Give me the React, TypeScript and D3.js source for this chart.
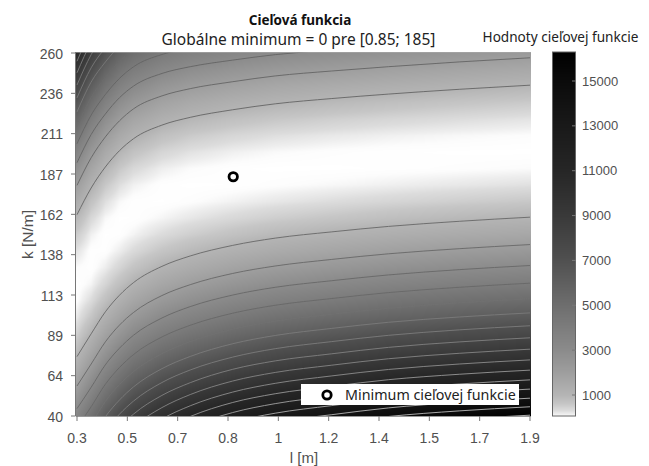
import React, { useMemo } from "react";
import * as d3 from "d3";

const xTickLabels = ["0.3", "0.5", "0.7", "0.8", "1", "1.2", "1.4", "1.5", "1.7", "1.9"];
const yTickLabels = ["40", "64", "89", "113", "138", "162", "187", "211", "236", "260"];
const barTicks = [1000, 3000, 5000, 7000, 9000, 11000, 13000, 15000];

const lCols = [0.3, 0.35, 0.4, 0.45, 0.5, 0.6, 0.7, 0.85, 1, 1.2, 1.4, 1.65, 1.9];
const kRows = [40, 50, 60, 70, 80, 90, 100, 110, 120, 130, 140, 150, 160, 170, 180, 190, 200, 210, 220, 230, 240, 250, 260];

const fieldL030 = [3374, 2574, 1882, 1298, 822, 455, 195, 44, 1, 65, 238, 519, 909, 1406, 2011, 2725, 3546, 4476, 5514, 6660, 7914, 9276, 10746];
const fieldL035 = [4776, 3814, 2960, 2214, 1576, 1046, 625, 311, 106, 9, 19, 138, 365, 701, 1144, 1695, 2355, 3122, 3998, 4982, 6074, 7274, 8582];
const fieldL040 = [6189, 5086, 4091, 3205, 2426, 1756, 1194, 740, 394, 156, 26, 5, 91, 286, 589, 999, 1518, 2145, 2881, 3724, 4675, 5735, 6902];
const fieldL045 = [7399, 6189, 5086, 4091, 3205, 2426, 1756, 1194, 740, 394, 156, 26, 5, 91, 286, 589, 999, 1518, 2145, 2881, 3724, 4675, 5735];
const fieldL050 = [8517, 7203, 6000, 4907, 3923, 3050, 2286, 1632, 1088, 654, 330, 115, 11, 17, 132, 357, 692, 1137, 1692, 2357, 3132, 4016, 5011];
const fieldL060 = [10012, 8569, 7237, 6018, 4911, 3917, 3035, 2265, 1608, 1063, 630, 310, 102, 7, 24, 153, 394, 748, 1215, 1793, 2484, 3288, 4203];
const fieldL070 = [11041, 9509, 8092, 6789, 5601, 4526, 3566, 2721, 1989, 1372, 869, 481, 206, 46, 1, 69, 252, 549, 961, 1486, 2126, 2881, 3749];
const fieldL085 = [12282, 10641, 9118, 7712, 6424, 5253, 4200, 3265, 2447, 1747, 1165, 700, 353, 124, 12, 18, 141, 382, 741, 1218, 1812, 2524, 3353];
const fieldL100 = [13284, 11556, 9947, 8459, 7092, 5845, 4718, 3712, 2827, 2061, 1417, 893, 489, 206, 44, 1, 80, 278, 598, 1037, 1598, 2278, 3080];
const fieldL120 = [14174, 12371, 10690, 9131, 7696, 6383, 5193, 4125, 3180, 2358, 1659, 1082, 628, 297, 88, 2, 39, 199, 481, 886, 1413, 2064, 2837];
const fieldL140 = [14922, 13059, 11320, 9705, 8214, 6848, 5606, 4488, 3494, 2624, 1879, 1258, 761, 388, 140, 16, 16, 140, 388, 761, 1258, 1879, 2624];
const fieldL165 = [15603, 13690, 11903, 10240, 8703, 7290, 6003, 4840, 3803, 2890, 2103, 1440, 903, 490, 203, 40, 3, 90, 303, 640, 1103, 1690, 2403];
const fieldL190 = [16270, 14157, 12338, 10644, 9075, 7631, 6313, 5119, 4050, 3106, 2288, 1594, 1025, 581, 263, 69, 0, 56, 238, 544, 975, 1531, 2213];
const fieldColumns = [fieldL030, fieldL035, fieldL040, fieldL045, fieldL050, fieldL060, fieldL070, fieldL085, fieldL100, fieldL120, fieldL140, fieldL165, fieldL190];

const colorValues = [0, 60, 150, 300, 600, 1000, 2000, 3000, 5000, 7000, 9000, 11000, 13000, 15000, 16280];
const colorGrays = [255, 252, 238, 220, 198, 180, 158, 139, 110, 80, 57, 38, 25, 11, 0];

// contour lines read at lCols (k values below 40 or above 260 leave the plot)
const lowerLines: number[][] = [
  [76, 89.8, 103.1, 113.2, 120.9, 130.7, 137, 143.4, 147.8, 151.6, 154.9, 158, 160.5],
  [58.2, 71.5, 84.9, 95.1, 102.8, 113, 119.6, 126.4, 130.9, 134.9, 138.3, 141.4, 143.9],
  [44.5, 57.4, 71, 81.1, 89, 99.4, 106.3, 113.3, 118, 122, 125.5, 128.7, 131.2],
  [33, 45.6, 59.2, 69.4, 77.3, 87.9, 95, 102.3, 107.1, 111.2, 114.8, 118, 120.5],
  [22.9, 35.2, 48.8, 59.1, 67, 77.8, 85.1, 92.6, 97.5, 101.7, 105.3, 108.6, 111.1],
  [13.7, 25.8, 39.5, 49.7, 57.7, 68.7, 76.1, 83.8, 88.8, 93.1, 96.8, 100, 102.5],
  [5.2, 17, 30.8, 41.1, 49.1, 60.3, 67.9, 75.7, 80.8, 85.1, 88.9, 92.2, 94.7],
  [-2.6, 9, 22.9, 33.1, 41.2, 52.5, 60.2, 68.3, 73.4, 77.7, 81.6, 84.9, 87.4],
  [-10, 1.4, 15.3, 25.6, 33.7, 45.1, 53, 61.2, 66.4, 70.8, 74.7, 78, 80.5],
  [-17, -5.8, 8.2, 18.5, 26.6, 38.2, 46.2, 54.5, 59.8, 64.3, 68.2, 71.5, 74],
  [-24, -13, 1, 11.5, 19.5, 31.5, 39.7, 48.2, 53.5, 58, 62, 65.3, 67.8],
  [-30, -19, -5, 5, 13, 25.2, 33.5, 42.1, 47.5, 52.1, 56.1, 59.4, 61.9],
  [-36, -25, -11, -1, 7, 19, 27.5, 36.3, 41.7, 46.3, 50.4, 53.8, 56.3],
  [-42, -31, -17, -7, 1, 13, 22, 30.7, 36.2, 40.8, 44.9, 48.3, 50.8],
  [-48, -37, -23, -13, -5, 8, 17, 25.3, 30.9, 35.5, 39.7, 43.1, 45.6],
  [-54, -43, -29, -19, -11, 3, 12, 20, 25.7, 30.4, 34.6, 38, 40.5],
];
const upperLines: number[][] = [
  [162, 178.2, 190.9, 200.8, 208.1, 216.3, 221, 225.6, 229.2, 232.4, 235.1, 238, 240.5],
  [179.8, 196.5, 209.1, 218.9, 226.2, 234, 238.4, 242.6, 246.1, 249.1, 251.7, 254.6, 257.1],
  [193.5, 210.6, 223, 232.9, 240, 247.6, 251.7, 255.7, 259, 262, 265, 268, 270],
  [205, 222.4, 234.8, 244.6, 251.7, 259.1, 263, 268, 271, 274, 276, 279, 281],
  [215.1, 233, 245.2, 254.9, 262, 270, 274, 279, 282, 285, 288, 290, 292],
  [224.3, 242.4, 254.5, 264.3, 272, 280, 284, 289, 292, 295, 298, 300, 302],
  [232.8, 251, 263.2, 273, 281, 289, 293, 298, 301, 304, 307, 310, 312],
  [240.6, 259, 272, 281, 289, 297, 301, 306, 310, 313, 316, 319, 321],
  [248, 266.6, 280, 289, 297, 305, 309, 314, 318, 321, 324, 327, 329],
  [255, 273.8, 287, 296, 304, 312, 316, 321, 325, 328, 331, 334, 336],
];
const lowerLineGrays = [104, 104, 104, 104, 112, 122, 124, 128, 132, 140, 150, 160, 170, 180, 185, 190];
const upperLineGrays = [100, 100, 100, 100, 108, 120, 120, 120, 125, 125];

const markerPoint = { l: 0.85, k: 185 };
const W = 649;
const H = 466;

const x = d3.scaleLinear().domain([0.3, 1.9]).range([77, 530]);
const y = d3.scaleLinear().domain([40, 260]).range([416, 53]);
const barY = d3.scaleLinear().domain([1000, 15000]).range([395, 81]);
const gray = d3.scaleLinear<number>().domain(colorValues).range(colorGrays).clamp(true);
const colCoord = d3.scaleLinear().domain(lCols).range(lCols.map((_, i) => i)).clamp(true);
const rowCoord = d3.scaleLinear().domain(kRows).range(kRows.map((_, i) => i)).clamp(true);

const PL = 76;
const PR = 531;
const PT = 52;
const PB = 416;

function sampleField(l: number, k: number) {
  const cf = colCoord(l);
  const rf = rowCoord(k);
  const c0 = Math.min(Math.floor(cf), lCols.length - 2);
  const r0 = Math.min(Math.floor(rf), kRows.length - 2);
  const a = cf - c0;
  const b = rf - r0;
  const v0 = fieldColumns[c0][r0] * (1 - b) + fieldColumns[c0][r0 + 1] * b;
  const v1 = fieldColumns[c0 + 1][r0] * (1 - b) + fieldColumns[c0 + 1][r0 + 1] * b;
  return v0 * (1 - a) + v1 * a;
}

function fieldImage() {
  const w = PR - PL;
  const h = PB - PT;
  const canvas = document.createElement("canvas");
  canvas.width = w;
  canvas.height = h;
  const ctx = canvas.getContext("2d")!;
  const img = ctx.createImageData(w, h);
  for (let j = 0; j < h; j++) {
    for (let i = 0; i < w; i++) {
      const v = sampleField(x.invert(PL + i + 0.5), y.invert(PT + j + 0.5));
      const g = gray(v);
      const o = (j * w + i) * 4;
      img.data[o] = g;
      img.data[o + 1] = g;
      img.data[o + 2] = g;
      img.data[o + 3] = 255;
    }
  }
  ctx.putImageData(img, 0, 0);
  return canvas.toDataURL();
}

function barImage() {
  const canvas = document.createElement("canvas");
  canvas.width = 1;
  canvas.height = 364;
  const ctx = canvas.getContext("2d")!;
  for (let j = 0; j < 364; j++) {
    const g = Math.round(gray(barY.invert(52 + j + 0.5)));
    ctx.fillStyle = `rgb(${g},${g},${g})`;
    ctx.fillRect(0, j, 1, 1);
  }
  return canvas.toDataURL();
}

const line = d3
  .line<number>()
  .x((_, i) => x(lCols[i]))
  .y((d) => y(d))
  .curve(d3.curveMonotoneX);

const tickFont = "'Liberation Sans', Arial, sans-serif";
const uiFont = "'Noto Sans', 'Open Sans', sans-serif";
const tickColor = "#505050";

export default function App() {
  const fieldUrl = useMemo(fieldImage, []);
  const barUrl = useMemo(barImage, []);
  const xTickPos = xTickLabels.map((_, i) => 77 + (i * (530 - 77)) / (xTickLabels.length - 1));
  const yTickPos = yTickLabels.map((_, i) => 416 - (i * (416 - 53)) / (yTickLabels.length - 1));
  return (
    <svg width={W} height={H} style={{ position: "fixed", left: 0, top: 0, background: "#fff" }}>
      <defs>
        <clipPath id="plotClip">
          <rect x={PL} y={PT} width={PR - PL} height={PB - PT} />
        </clipPath>
        <filter id="soft" x="-5%" y="-5%" width="110%" height="110%">
          <feGaussianBlur stdDeviation={0.35} />
        </filter>
      </defs>
      <text x={300} y={25} textAnchor="middle" fontFamily={uiFont} fontWeight={700} fontSize={13.5} fill="#111">
        Cieľová funkcia
      </text>
      <text x={298.5} y={45} textAnchor="middle" fontFamily={uiFont} fontSize={15.5} fill="#222">
        Globálne minimum = 0 pre [0.85; 185]
      </text>

      <image href={fieldUrl} x={PL} y={PT} width={PR - PL} height={PB - PT} preserveAspectRatio="none" />
      <g clipPath="url(#plotClip)">
        <g fill="none" strokeWidth={0.9} filter="url(#soft)">
          {lowerLines.map((d, i) => (
            <path key={"lo" + i} d={line(d) ?? ""} stroke={`rgb(${lowerLineGrays[i]},${lowerLineGrays[i]},${lowerLineGrays[i]})`} />
          ))}
          {upperLines.map((d, i) => (
            <path key={"up" + i} d={line(d) ?? ""} stroke={`rgb(${upperLineGrays[i]},${upperLineGrays[i]},${upperLineGrays[i]})`} />
          ))}
        </g>
      </g>

      <line x1={75.5} x2={75.5} y1={PT} y2={PB} stroke="#777" />
      <line x1={PL} x2={PR} y1={PB + 0.5} y2={PB + 0.5} stroke="#999" />
      <line x1={PL} x2={PR} y1={PT + 0.5} y2={PT + 0.5} stroke="#aaa" strokeOpacity={0.6} />

      {xTickLabels.map((t, i) => (
        <g key={"xt" + i}>
          <line x1={xTickPos[i]} x2={xTickPos[i]} y1={PB} y2={PB + 5} stroke="#777" />
          <text x={xTickPos[i]} y={443} textAnchor="middle" fontFamily={tickFont} fontSize={14} fill={tickColor}>
            {t}
          </text>
        </g>
      ))}
      {yTickLabels.map((t, i) => (
        <g key={"yt" + i}>
          <line x1={71} x2={75.5} y1={yTickPos[i]} y2={yTickPos[i]} stroke="#777" />
          <text x={63} y={yTickPos[i] + 5.5} textAnchor="end" fontFamily={tickFont} fontSize={14} fill={tickColor}>
            {t}
          </text>
        </g>
      ))}
      <text x={304} y={463} textAnchor="middle" fontFamily={tickFont} fontSize={15} fill={tickColor}>
        l [m]
      </text>
      <text transform="translate(33,234.5) rotate(-90)" textAnchor="middle" fontFamily={tickFont} fontSize={15.5} fill={tickColor}>
        k [N/m]
      </text>

      <circle cx={x(markerPoint.l) + 0.5} cy={y(markerPoint.k)} r={4.2} fill="#fff" stroke="#000" strokeWidth={2.8} />

      <rect x={301} y={384} width={218} height={21} fill="#fff" />
      <circle cx={327} cy={395} r={4.2} fill="#fff" stroke="#000" strokeWidth={2.8} />
      <text x={345} y={400} fontFamily={uiFont} fontSize={14.3} fill="#222">
        Minimum cieľovej funkcie
      </text>

      <text x={560.5} y={42} textAnchor="middle" fontFamily={uiFont} fontSize={13.6} fill="#222">
        Hodnoty cieľovej funkcie
      </text>
      <image href={barUrl} x={552.5} y={52} width={23} height={364} preserveAspectRatio="none" />
      <rect x={552.5} y={52} width={23} height={364} fill="none" stroke="#666" />
      {barTicks.map((t) => (
        <g key={"bt" + t}>
          <line x1={572} x2={576} y1={barY(t)} y2={barY(t)} stroke="#777" />
          <text x={582} y={barY(t) + 4.5} fontFamily={tickFont} fontSize={13} fill={tickColor}>
            {t}
          </text>
        </g>
      ))}
    </svg>
  );
}
